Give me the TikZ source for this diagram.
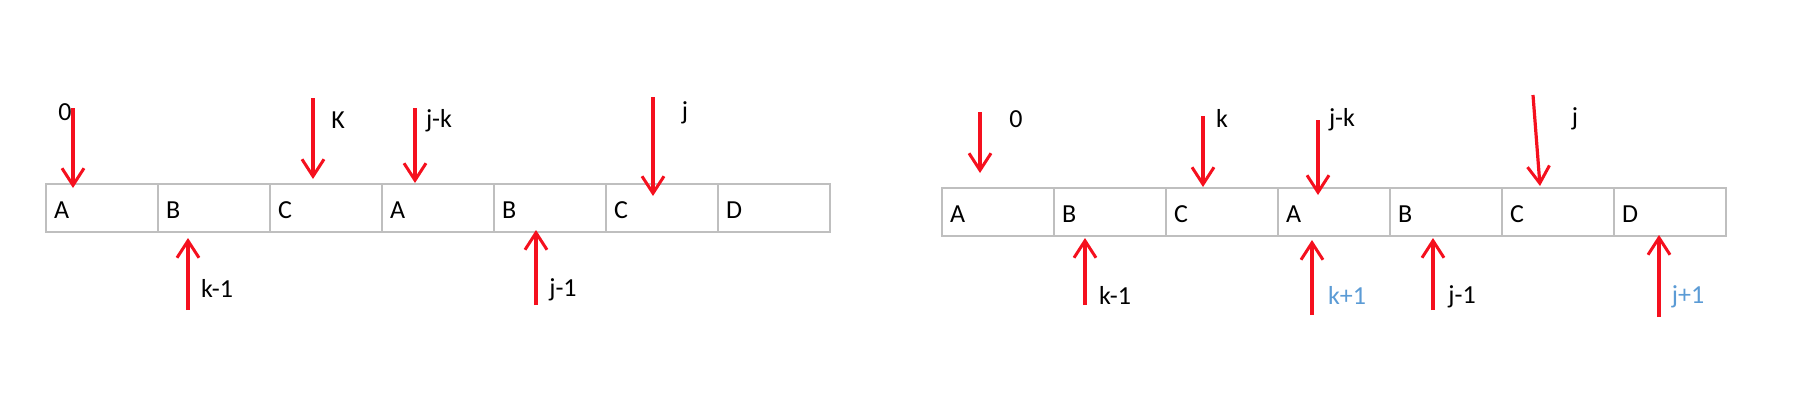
\documentclass[tikz,border=0pt]{standalone}
\usepackage{fontspec}
\setmainfont{Carlito}
\usetikzlibrary{arrows.meta}
\definecolor{cellgray}{HTML}{BFBFBF}
\definecolor{arrred}{HTML}{F5101E}
\definecolor{lblue}{HTML}{5B9BD5}
\tikzset{
  cell/.style={draw=cellgray, line width=2pt, minimum width=112pt, minimum height=48pt, inner sep=0pt, anchor=north west},
  letter/.style={anchor=west, font=\fontsize{26}{30}\selectfont, inner sep=0pt, xshift=9pt, yshift=-2pt},
  lbl/.style={font=\fontsize{26}{30}\selectfont, inner sep=0pt},
  bluelbl/.style={lbl, text=lblue},
  redarrow/.style={draw=arrred, line width=3.2pt, -{Straight Barb[length=17pt,width=22pt,line width=3pt]}}
}
\begin{document}
\begin{tikzpicture}[x=1pt,y=-1pt]
\useasboundingbox (0,0) rectangle (1818,408);
% left array
\foreach \n/\t [count=\i from 0] in {L1/A,L2/B,L3/C,L4/A,L5/B,L6/C,L7/D} {
  \node[cell] (\n) at ({45+112*\i},183) {};
  \node[letter] (\n t) at (\n.west) {\t};
}
% right array
\foreach \n/\t [count=\i from 0] in {R1/A,R2/B,R3/C,R4/A,R5/B,R6/C,R7/D} {
  \node[cell] (\n) at ({941+112*\i},187) {};
  \node[letter] (\n t) at (\n.west) {\t};
}
% left arrows
\coordinate (la0s) at (73,108);  \coordinate (la0e) at (73,188);
\coordinate (laKs) at (313,98);  \coordinate (laKe) at (313,179);
\coordinate (lajks) at (415,108); \coordinate (lajke) at (415,183);
\coordinate (lajs) at (653,97);  \coordinate (laje) at (653,196);
\coordinate (lak1s) at (188,310); \coordinate (lak1e) at (188,238);
\coordinate (laj1s) at (536,305); \coordinate (laj1e) at (536,230);
\draw[redarrow] (la0s) -- (la0e);
\draw[redarrow] (laKs) -- (laKe);
\draw[redarrow] (lajks) -- (lajke);
\draw[redarrow] (lajs) -- (laje);
\draw[redarrow] (lak1s) -- (lak1e);
\draw[redarrow] (laj1s) -- (laj1e);
\node[lbl] (ll0) at (65,112) {0};
\node[lbl] (llK) at (338,120) {K};
\node[lbl] (lljk) at (439,121) {j-k};
\node[lbl] (llj) at (685,113) {j};
\node[lbl] (llk1) at (217,288) {k-1};
\node[lbl] (llj1) at (563,290) {j-1};
% right arrows
\coordinate (ra0s) at (980,112);  \coordinate (ra0e) at (980,173);
\coordinate (raks) at (1203,116); \coordinate (rake) at (1203,187);
\coordinate (rajks) at (1318,120); \coordinate (rajke) at (1318,195);
\coordinate (rajs) at (1533,95);  \coordinate (raje) at (1540,186);
\coordinate (rak1s) at (1085,305); \coordinate (rak1e) at (1085,238);
\coordinate (rakps) at (1312,315); \coordinate (rakpe) at (1312,240);
\coordinate (raj1s) at (1433,310); \coordinate (raj1e) at (1433,238);
\coordinate (rajps) at (1659,317); \coordinate (rajpe) at (1659,235);
\draw[redarrow] (ra0s) -- (ra0e);
\draw[redarrow] (raks) -- (rake);
\draw[redarrow] (rajks) -- (rajke);
\draw[redarrow] (rajs) -- (raje);
\draw[redarrow] (rak1s) -- (rak1e);
\draw[redarrow] (rakps) -- (rakpe);
\draw[redarrow] (raj1s) -- (raj1e);
\draw[redarrow] (rajps) -- (rajpe);
\node[lbl] (rl0) at (1016,119) {0};
\node[lbl] (rlk) at (1222,118) {k};
\node[lbl] (rljk) at (1342,120) {j-k};
\node[lbl] (rlj) at (1575,119) {j};
\node[lbl] (rlk1) at (1115,295) {k-1};
\node[bluelbl] (rlkp) at (1347,295) {k+1};
\node[lbl] (rlj1) at (1462,297) {j-1};
\node[bluelbl] (rljp) at (1688,297) {j+1};
\end{tikzpicture}
\end{document}
